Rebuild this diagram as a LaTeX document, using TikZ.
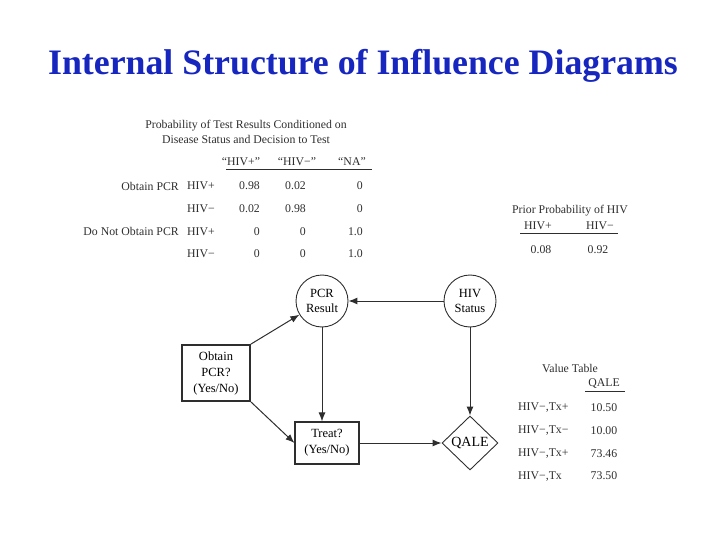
\documentclass[tikz,border=0pt]{standalone}
\usepackage{fontspec}
\setmainfont{Liberation Serif}
\usetikzlibrary{arrows.meta,positioning,shapes.geometric,calc}
\definecolor{titleblue}{RGB}{22,38,190}
\definecolor{ink}{gray}{0.18}

\begin{document}
\begin{tikzpicture}[
  x=1pt, y=-1pt,
  font=\fontsize{11.8}{14.5}\selectfont,
  >={Latex[length=9pt,width=7pt]},
  txt/.style={inner sep=0pt, text=ink},
  chance/.style={
    draw=ink,
    circle,
    align=center,
    inner sep=0pt,
    minimum size=52pt,
    line width=0.9pt,
    font=\fontsize{12.5}{14.5}\selectfont
  },
  decision/.style={
    draw=ink,
    align=center,
    inner sep=1pt,
    line width=1.1pt,
    font=\fontsize{12.5}{16}\selectfont
  },
  valuenode/.style={
    draw=ink,
    diamond,
    inner sep=0pt,
    minimum width=56pt,
    minimum height=54pt,
    line width=0.9pt,
    font=\fontsize{14}{16}\selectfont
  },
  arrow/.style={->, draw=ink, line width=1pt},
  rule/.style={draw=ink, line width=0.7pt}
]
  \useasboundingbox (0,0) rectangle (720,540);

  % title
  \node[inner sep=0pt, text=titleblue, font=\fontsize{35.8}{40}\selectfont\bfseries]
    (title) at (363,66) {Internal Structure of Influence Diagrams};

  % conditional probability table
  \node[txt, align=center] (cpt) at (246,132)
    {Probability of Test Results Conditioned on\\Disease Status and Decision to Test};
  \foreach \lab/\x [count=\i] in {``HIV+''/241, ``HIV−''/297, ``NA''/352}
    \node[txt] (hd\i) at (\x,162) {\lab};
  \draw[rule] (226,169) -- (372,169);
  \foreach \dec/\st/\pa/\pb/\pc [count=\r] in {%
      Obtain PCR/HIV+/0.98/0.02/0,
      {}/HIV−/0.02/0.98/0,
      Do Not Obtain PCR/HIV+/0/0/1.0,
      {}/HIV−/0/0/1.0} {
    \pgfmathsetmacro{\yy}{186+(\r-1)*22.7}
    \node[txt, anchor=east] (dec\r) at (179,\yy) {\dec};
    \node[txt, anchor=west] (st\r) at (187,\yy) {\st};
    \node[txt, anchor=east] (pa\r) at (260,\yy) {\pa};
    \node[txt, anchor=east] (pb\r) at (306,\yy) {\pb};
    \node[txt, anchor=east] (pc\r) at (363,\yy) {\pc};
  }

  % prior table
  \node[txt] (prior) at (570,211) {Prior Probability of HIV};
  \node[txt] (prh1) at (538,226) {HIV+};
  \node[txt] (prh2) at (600,226) {HIV−};
  \draw[rule] (520,233) -- (618,233);
  \node[txt] (prv1) at (541,250) {0.08};
  \node[txt] (prv2) at (598,250) {0.92};

  % value table
  \node[txt] (vt) at (570,368) {Value Table};
  \node[txt] (vqale) at (604,384) {QALE};
  \draw[rule] (585,391) -- (625,391);
  \foreach \lab/\v [count=\r] in {HIV−{,}Tx+/10.50, HIV−{,}Tx−/10.00,
                                  HIV−{,}Tx+/73.46, HIV−{,}Tx/73.50} {
    \pgfmathsetmacro{\yy}{408+(\r-1)*22.7}
    \node[txt, anchor=west] (vl\r) at (518,\yy) {\lab};
    \node[txt] (vv\r) at (604,\yy) {\v};
  }

  % influence diagram
  \node[chance] (pcr) at (322,301) {PCR\\Result};
  \node[chance] (hiv) at (470,301) {HIV\\Status};
  \node[decision, minimum width=68pt, minimum height=56pt, line width=1.8pt]
    (obtain) at (216,373) {Obtain\\PCR?\\(Yes/No)};
  \node[decision, minimum width=64pt, minimum height=42pt]
    (treat) at (327,443) {Treat?\\(Yes/No)};
  \node[valuenode] (qale) at (470,443) {QALE};

  \draw[arrow] (hiv) -- (pcr);
  \draw[arrow] (pcr) -- (pcr |- treat.north);
  \draw[arrow] (hiv) -- (qale);
  \draw[arrow] (obtain.north east) -- (pcr);
  \draw[arrow] (obtain.south east) -- (treat.west);
  \draw[arrow] (treat) -- (qale);
\end{tikzpicture}
\end{document}
